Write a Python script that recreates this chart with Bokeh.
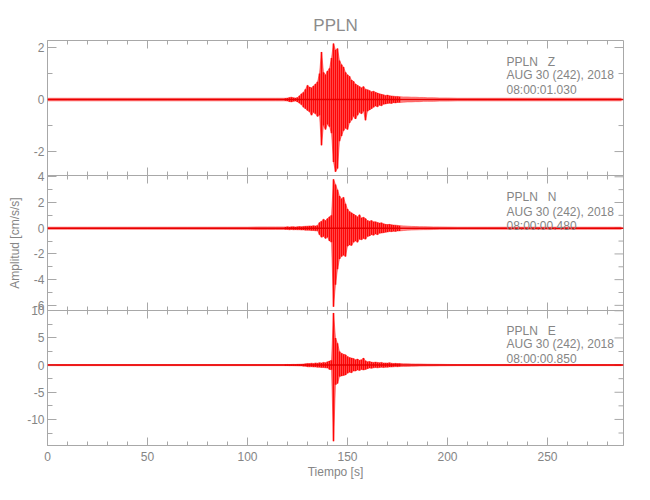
import math
from bokeh.plotting import figure
from bokeh.models import Range1d, FixedTicker, SingleIntervalTicker, LinearAxis, Label, Span
from bokeh.embed import file_html
from bokeh.resources import INLINE

FONT = "Liberation Sans"
TXT = "#858585"
AX = "#a8a8a8"
RED = "#ff0000"

# ---- data (envelope of each trace) ----
time_s = [0, 10, 20, 30, 40, 50, 60, 70, 80, 90, 100, 105, 110, 114, 118,
          119, 120, 121, 122, 123, 124, 125, 126, 127, 128, 129, 130, 131, 132, 133, 134, 135, 136, 137, 138,
          139, 140, 141, 142, 143, 144, 145, 146, 147, 148, 149, 150, 151, 152, 153, 154, 155, 156, 157, 158,
          159, 160, 161, 162, 163, 164, 165, 166, 167, 168, 169, 170, 171, 172, 173, 174, 175, 176,
          178, 180, 182, 184, 186, 188, 190, 193, 196, 200, 205, 210, 220, 230, 240, 250, 260, 270, 280, 287]

z_hi = [0.05, 0.05, 0.05, 0.05, 0.05, 0.05, 0.05, 0.05, 0.05, 0.05, 0.05, 0.05, 0.05, 0.05, 0.05,
        0.05, 0.06, 0.08, 0.09, 0.07, 0.06, 0.08, 0.15, 0.22, 0.28, 0.4, 0.55, 0.48, 0.45, 0.52, 0.6, 0.68, 1.0, 1.83, 1.05,
        0.95, 1.1, 1.2, 1.6, 2.15, 1.9, 1.96, 1.5, 1.35, 1.25, 1.05, 0.95, 0.9, 0.75, 0.7, 0.6, 0.55, 0.5, 0.45, 0.5,
        0.4, 0.38, 0.35, 0.3, 0.32, 0.28, 0.25, 0.22, 0.2, 0.18, 0.16, 0.17, 0.15, 0.14, 0.13, 0.12, 0.12, 0.11,
        0.1, 0.1, 0.09, 0.09, 0.08, 0.08, 0.07, 0.07, 0.06, 0.06, 0.05, 0.05, 0.05, 0.05, 0.05, 0.05, 0.05, 0.05, 0.05, 0.05]
z_lo = [-0.05, -0.05, -0.05, -0.05, -0.05, -0.05, -0.05, -0.05, -0.05, -0.05, -0.05, -0.05, -0.05, -0.05, -0.05,
        -0.05, -0.06, -0.08, -0.09, -0.07, -0.06, -0.09, -0.14, -0.2, -0.3, -0.35, -0.42, -0.47, -0.6, -0.5, -0.55, -0.65, -0.6, -1.76, -1.0,
        -1.15, -0.95, -1.05, -1.3, -2.4, -2.78, -2.65, -1.6, -1.4, -1.2, -1.1, -1.15, -0.9, -0.8, -0.65, -0.75, -0.6, -0.5, -0.55, -0.45,
        -0.8, -0.45, -0.4, -0.35, -0.3, -0.25, -0.28, -0.22, -0.24, -0.18, -0.17, -0.15, -0.14, -0.15, -0.12, -0.13, -0.11, -0.11,
        -0.1, -0.09, -0.09, -0.08, -0.08, -0.07, -0.07, -0.07, -0.06, -0.06, -0.05, -0.05, -0.05, -0.05, -0.05, -0.05, -0.05, -0.05, -0.05, -0.05]

n_hi = [0.08, 0.08, 0.08, 0.08, 0.08, 0.08, 0.08, 0.08, 0.08, 0.08, 0.08, 0.1, 0.1, 0.1, 0.1,
        0.1, 0.12, 0.1, 0.11, 0.12, 0.1, 0.12, 0.13, 0.12, 0.14, 0.15, 0.16, 0.18, 0.17, 0.2, 0.18, 0.22, 0.45, 0.55, 0.7,
        0.6, 0.75, 0.9, 1.0, 3.8, 3.4, 3.0, 2.5, 2.3, 2.4, 1.9, 1.5, 1.3, 1.2, 1.1, 1.0, 0.9, 1.05, 0.8, 0.85,
        0.75, 0.6, 0.55, 0.6, 0.5, 0.5, 0.45, 0.4, 0.42, 0.35, 0.3, 0.28, 0.3, 0.26, 0.25, 0.24, 0.22, 0.2,
        0.18, 0.16, 0.14, 0.13, 0.12, 0.12, 0.11, 0.1, 0.1, 0.09, 0.08, 0.08, 0.08, 0.08, 0.08, 0.08, 0.08, 0.08, 0.08, 0.08]
n_lo = [-0.08, -0.08, -0.08, -0.08, -0.08, -0.08, -0.08, -0.08, -0.08, -0.08, -0.08, -0.1, -0.1, -0.1, -0.1,
        -0.1, -0.1, -0.12, -0.1, -0.12, -0.11, -0.12, -0.12, -0.14, -0.13, -0.15, -0.15, -0.16, -0.18, -0.18, -0.2, -0.2, -0.5, -0.7, -0.65,
        -0.8, -0.7, -1.0, -1.1, -6.1, -4.4, -3.2, -2.4, -2.2, -2.1, -2.2, -1.4, -1.3, -1.35, -1.1, -1.0, -1.1, -0.85, -0.9, -0.8,
        -0.85, -0.65, -0.6, -0.5, -0.55, -0.45, -0.5, -0.4, -0.38, -0.35, -0.32, -0.3, -0.26, -0.27, -0.24, -0.25, -0.22, -0.21,
        -0.18, -0.15, -0.14, -0.13, -0.12, -0.11, -0.11, -0.1, -0.09, -0.09, -0.08, -0.08, -0.08, -0.08, -0.08, -0.08, -0.08, -0.08, -0.08, -0.08]

e_hi = [0.1, 0.1, 0.1, 0.1, 0.1, 0.1, 0.1, 0.1, 0.1, 0.1, 0.1, 0.1, 0.1, 0.1, 0.1,
        0.1, 0.12, 0.1, 0.12, 0.13, 0.12, 0.14, 0.15, 0.17, 0.2, 0.25, 0.3, 0.28, 0.35, 0.3, 0.4, 0.35, 0.45, 0.4, 0.5,
        0.45, 0.6, 0.75, 0.9, 9.6, 5.0, 4.0, 2.5, 2.2, 2.0, 1.9, 1.6, 1.4, 1.3, 1.2, 1.0, 1.1, 0.9, 1.0, 1.3,
        0.8, 0.6, 0.65, 0.55, 0.5, 0.55, 0.5, 0.45, 0.5, 0.4, 0.4, 0.38, 0.45, 0.35, 0.3, 0.32, 0.28, 0.3,
        0.26, 0.25, 0.22, 0.2, 0.2, 0.18, 0.16, 0.15, 0.14, 0.12, 0.1, 0.1, 0.1, 0.1, 0.1, 0.1, 0.1, 0.1, 0.1, 0.1]
e_lo = [-0.1, -0.1, -0.1, -0.1, -0.1, -0.1, -0.1, -0.1, -0.1, -0.1, -0.1, -0.1, -0.1, -0.1, -0.1,
        -0.1, -0.1, -0.12, -0.11, -0.12, -0.13, -0.14, -0.15, -0.16, -0.2, -0.22, -0.3, -0.32, -0.3, -0.35, -0.35, -0.4, -0.4, -0.45, -0.45,
        -0.5, -0.55, -0.8, -0.85, -14.0, -3.6, -3.4, -2.1, -2.0, -1.9, -1.8, -1.5, -1.3, -1.4, -1.1, -1.1, -0.9, -1.0, -0.8, -0.9,
        -0.8, -0.65, -0.55, -0.6, -0.5, -0.45, -0.5, -0.45, -0.4, -0.45, -0.38, -0.4, -0.35, -0.35, -0.32, -0.28, -0.3, -0.27,
        -0.25, -0.24, -0.22, -0.2, -0.18, -0.17, -0.16, -0.15, -0.13, -0.12, -0.1, -0.1, -0.1, -0.1, -0.1, -0.1, -0.1, -0.1, -0.1, -0.1]

# the 1-second sampled part of the record (indices into time_s)
dense_start, dense_end = 15, 73

# axis ranges and ticks (panels from top to bottom: Z, N, E)
x_end = 288
x_major = [0, 50, 100, 150, 200, 250]
x_minor = [10, 20, 30, 40, 60, 70, 80, 90, 110, 120, 130, 140, 160, 170, 180, 190,
           210, 220, 230, 240, 260, 270, 280]
y_ranges = [(-2.92, 2.27), (-6.4, 4.1), (-14.8, 10.05)]
y_major = [[-2, 0, 2], [-6, -4, -2, 0, 2, 4], [-10, -5, 0, 5, 10]]
y_minor = [[-2, -1, 0, 1, 2], [-6, -5, -4, -3, -2, -1, 0, 1, 2, 3, 4],
           [-12.5, -10, -7.5, -5, -2.5, 0, 2.5, 5, 7.5, 10]]
station_labels = [["PPLN\u00a0\u00a0\u00a0Z", "AUG 30 (242), 2018", "08:00:01.030"],
                  ["PPLN\u00a0\u00a0\u00a0N", "AUG 30 (242), 2018", "08:00:00.480"],
                  ["PPLN\u00a0\u00a0\u00a0E", "AUG 30 (242), 2018", "08:00:00.850"]]
traces = [(z_hi, z_lo), (n_hi, n_lo), (e_hi, e_lo)]

PANEL = 135.0
bases = [270.0, 135.0, 0.0]

p = figure(width=640, height=490, x_range=Range1d(0, x_end), y_range=Range1d(0, 3 * PANEL),
           output_backend="svg", toolbar_location=None,
           x_axis_location=None, y_axis_location=None,
           min_border_left=47, min_border_right=17, min_border_top=40, min_border_bottom=45)
p.grid.visible = False
p.outline_line_color = AX
p.background_fill_color = "white"
p.border_fill_color = "white"


def master(i, v):
    lo, hi = y_ranges[i]
    return round(bases[i] + (v - lo) / (hi - lo) * PANEL, 3)


for i, (lo, hi) in enumerate(y_ranges):
    span = hi - lo
    p.extra_y_ranges[f"p{i}"] = Range1d(lo - bases[i] / PANEL * span,
                                        hi + (2 * PANEL - bases[i]) / PANEL * span)

major_pos, minor_pos, overrides = [], [], {}
for i in range(3):
    for v in y_major[i]:
        m = master(i, v)
        major_pos.append(m)
        overrides[m] = str(v)
    for v in y_minor[i]:
        if v not in y_major[i]:
            minor_pos.append(master(i, v))

# left axis with labels
yax = LinearAxis(ticker=FixedTicker(ticks=major_pos, minor_ticks=minor_pos),
                 major_label_overrides=overrides)
yax.axis_line_color = AX
yax.major_tick_line_color = AX
yax.minor_tick_line_color = AX
yax.major_tick_in = 9
yax.major_tick_out = 0
yax.minor_tick_in = 5
yax.minor_tick_out = 0
yax.major_label_text_font = FONT
yax.major_label_text_font_size = "12px"
yax.major_label_text_color = TXT
yax.major_label_standoff = 3
yax.axis_label = "Amplitud [cm/s/s]"
yax.axis_label_text_font = FONT
yax.axis_label_text_font_size = "12px"
yax.axis_label_text_font_style = "normal"
yax.axis_label_text_color = TXT
yax.axis_label_standoff = 2
p.add_layout(yax, "left")

# bottom axis with labels
xax = LinearAxis(ticker=SingleIntervalTicker(interval=50, num_minor_ticks=5))
xax.axis_line_color = AX
xax.major_tick_line_color = AX
xax.minor_tick_line_color = AX
xax.major_tick_in = 8
xax.major_tick_out = 0
xax.minor_tick_in = 4
xax.minor_tick_out = 0
xax.major_label_text_font = FONT
xax.major_label_text_font_size = "12px"
xax.major_label_text_color = TXT
xax.major_label_standoff = 6
xax.axis_label = "Tiempo [s]"
xax.axis_label_text_font = FONT
xax.axis_label_text_font_size = "12px"
xax.axis_label_text_font_style = "normal"
xax.axis_label_text_color = TXT
xax.axis_label_standoff = 1
p.add_layout(xax, "below")

# panel separators
for b in bases[:2]:
    p.add_layout(Span(location=b, dimension="width", line_color=AX, line_width=1))

# inward ticks on top edge and both sides of separators (markers centred on the edge, clipped by the frame)
edges = [3 * PANEL, bases[0], bases[1]]
tx_maj = [x for _ in edges for x in x_major]
ty_maj = [e for e in edges for _ in x_major]
tx_min = [x for _ in edges for x in x_minor]
ty_min = [e for e in edges for _ in x_minor]
p.scatter(x=tx_maj, y=ty_maj, marker="dash", size=16, angle=math.pi / 2, line_color=AX, line_width=1)
p.scatter(x=tx_min, y=ty_min, marker="dash", size=8, angle=math.pi / 2, line_color=AX, line_width=1)
# right edge ticks
p.scatter(x=[x_end] * len(major_pos), y=major_pos, marker="dash", size=18, line_color=AX, line_width=1)
p.scatter(x=[x_end] * len(minor_pos), y=minor_pos, marker="dash", size=10, line_color=AX, line_width=1)

# traces
for i, (hi, lo) in enumerate(traces):
    rn = f"p{i}"
    p.varea(x=time_s, y1=lo, y2=hi, fill_color=RED, fill_alpha=0.45, y_range_name=rn)
    p.line(x=time_s, y=hi, line_color=RED, line_width=0.8, line_alpha=0.55, y_range_name=rn)
    p.line(x=time_s, y=lo, line_color=RED, line_width=0.8, line_alpha=0.55, y_range_name=rn)
    ts = time_s[dense_start:dense_end]
    p.segment(x0=ts, y0=lo[dense_start:dense_end], x1=ts, y1=hi[dense_start:dense_end],
              line_color=RED, line_width=1.6, line_alpha=0.95, y_range_name=rn)
    p.add_layout(Span(location=0, dimension="width", line_color="#e80000", line_width=1.5,
                      y_range_name=rn))

# station text
label_y = [(1.46, 0.96, 0.35), (2.42, 1.29, 0.21), (6.26, 3.94, 1.07)]
for i, (texts, ys) in enumerate(zip(station_labels, label_y)):
    for t, y in zip(texts, ys):
        p.add_layout(Label(x=229.5, y=y, text=t, text_font=FONT, text_font_size="12px",
                           text_color=TXT, text_baseline="middle", y_range_name=f"p{i}"))

p.title.text = "PPLN"
p.title.align = "center"
p.title.text_font = FONT
p.title.text_font_size = "17px"
p.title.text_font_style = "normal"
p.title.text_color = "#8c8c8c"
p.title.standoff = 11

open("out.html", "w").write(file_html(p, INLINE))
